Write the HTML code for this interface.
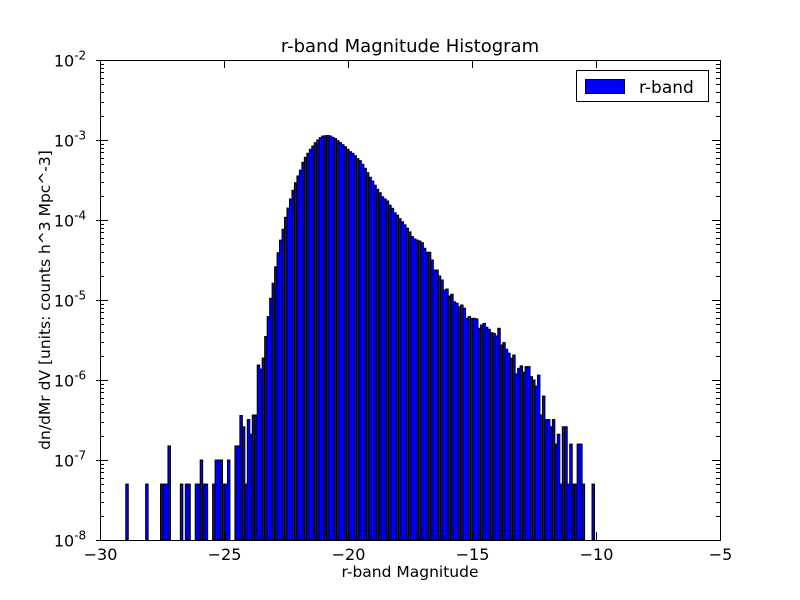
<!DOCTYPE html>
<html><head><meta charset="utf-8"><style>
body{margin:0;background:#fff;}
svg{display:block;font-family:"DejaVu Sans","Liberation Sans",sans-serif;}
</style></head><body>
<svg id="chart" width="800" height="600" xmlns="http://www.w3.org/2000/svg">
<rect width="800" height="600" fill="#fff"/>
<g id="bars"></g>
<g id="axes"></g>
<text x="410" y="52" text-anchor="middle" font-size="18">r-band Magnitude Histogram</text>
<text x="410" y="577" text-anchor="middle" font-size="15.5">r-band Magnitude</text>
<text transform="translate(50,300) rotate(-90)" text-anchor="middle" font-size="15.5">dn/dMr dV [units: counts h^3 Mpc^-3]</text>
<g>
<rect x="576.5" y="70.5" width="132" height="31" fill="#fff" stroke="#000"/>
<rect x="585.5" y="79.5" width="39" height="14" fill="#0000ff" stroke="#000"/>
<text x="639" y="93" font-size="17">r-band</text>
</g>
</svg>
<script>
const binStart = -28.96;
const binWidth = 0.1;
const values = [
5e-8,0,0,0,0,0,0,0,5e-8,0,0,0,0,0,5e-8,5e-8,5e-8,1.5e-7,0,0,
0,0,5e-8,0,5e-8,5e-8,0,0,5e-8,5e-8,1e-7,5e-8,5e-8,0,0,5e-8,1e-7,1e-7,1e-7,5e-8,
5e-8,1e-7,0,0,1.5e-7,1.5e-7,3.6e-7,2.6e-7,5e-8,3.2e-7,2.1e-7,3.65e-7,3.65e-7,1.54e-6,1.37e-6,1.88e-6,3.5e-6,6.2e-6,1.05e-5,1.62e-5,
2.6e-5,3.9e-5,5.6e-5,7.65e-5,1.08e-4,1.41e-4,1.83e-4,2.35e-4,2.92e-4,3.55e-4,4.2e-4,5.26e-4,6.08e-4,6.82e-4,7.65e-4,8.4e-4,9.25e-4,1.0e-3,1.07e-3,1.12e-3,
1.13e-3,1.14e-3,1.12e-3,1.08e-3,1.04e-3,9.8e-4,9.25e-4,8.73e-4,8.24e-4,7.65e-4,7.14e-4,6.82e-4,6.37e-4,5.84e-4,5.51e-4,4.97e-4,4.43e-4,3.9e-4,3.42e-4,3.07e-4,
2.72e-4,2.42e-4,2.19e-4,1.95e-4,1.83e-4,1.73e-4,1.53e-4,1.4e-4,1.23e-4,1.15e-4,1.04e-4,9.5e-5,8.7e-5,7.9e-5,7.1e-5,6.2e-5,5.8e-5,5.6e-5,5.46e-5,5.2e-5,
4.43e-5,3.95e-5,3.95e-5,3.16e-5,2.37e-5,2.37e-5,2.0e-5,1.78e-5,1.33e-5,1.37e-5,1.12e-5,1.18e-5,9.5e-6,9.1e-6,8.25e-6,8.66e-6,7.9e-6,5.9e-6,6.2e-6,5.9e-6,
5.9e-6,5.8e-6,4.43e-6,4.87e-6,5.1e-6,4.56e-6,4.3e-6,3.9e-6,3.83e-6,3.55e-6,4.43e-6,2.74e-6,2.93e-6,2.42e-6,2.16e-6,1.87e-6,2.05e-6,1.19e-6,1.4e-6,1.5e-6,
1.25e-6,1.47e-6,1.47e-6,1.1e-6,1.0e-6,8.4e-7,1.15e-6,3.65e-7,6.3e-7,3.2e-7,3.2e-7,2.6e-7,3.2e-7,1.58e-7,2.1e-7,5e-8,2.6e-7,2.6e-7,5e-8,1.58e-7,
5e-8,5e-8,1.58e-7,1.58e-7,5e-8,0,0,0,5e-8
];
const xTicks = [-30,-25,-20,-15,-10,-5];
const xTickLabels = ["\u221230","\u221225","\u221220","\u221215","\u221210","\u22125"];
const yExps = [-8,-7,-6,-5,-4,-3,-2];

const X0=100,X1=720,Y0=60,Y1=540,xmin=-30,xmax=-5,lmin=-8,lmax=-2;
const xs = m => X0+(m-xmin)/(xmax-xmin)*(X1-X0);
const ys = v => Y1-(Math.log10(v)-lmin)/(lmax-lmin)*(Y1-Y0);
const NS="http://www.w3.org/2000/svg";
function mk(tag,attrs,parent){const e=document.createElementNS(NS,tag);for(const k in attrs)e.setAttribute(k,attrs[k]);parent.appendChild(e);return e;}

const bars=document.getElementById('bars');
values.forEach((v,i)=>{
  if(!v) return;
  const m=binStart+i*binWidth;
  const x=xs(m), w=xs(m+binWidth)-x, y=ys(v);
  const r=mk('rect',{x:x,y:y,width:w,height:Y1-y,fill:'#0000ff',stroke:'#000','stroke-width':1},bars);
  
  
});

const ax=document.getElementById('axes');
const frame=mk('rect',{x:X0+0.5,y:Y0+0.5,width:X1-X0,height:Y1-Y0,fill:'none',stroke:'#000'},ax);


xTicks.forEach((t,i)=>{
  const x=Math.round(xs(t))+0.5;
  mk('line',{x1:x,x2:x,y1:Y1,y2:Y1-8,stroke:'#000'},ax);
  mk('line',{x1:x,x2:x,y1:Y0,y2:Y0+8,stroke:'#000'},ax);
  const tx=mk('text',{x:x,y:Y1+20,'text-anchor':'middle','font-size':16},ax);
  tx.textContent=xTickLabels[i];
  
  
});
yExps.forEach((e,i)=>{
  const y=Math.round(ys(Math.pow(10,e)))+0.5;
  mk('line',{x1:X0-4,x2:X0+8,y1:y,y2:y,stroke:'#000'},ax);
  mk('line',{x1:X1,x2:X1-8,y1:y,y2:y,stroke:'#000'},ax);
  const tx=mk('text',{x:X0-30,y:y+6,'text-anchor':'middle','font-size':16},ax);
  
  
  const a=mk('tspan',{},tx); a.textContent='10';
  const b=mk('tspan',{dy:-7,'font-size':12},tx); b.textContent=String(e);
  if(i<yExps.length-1){
    for(let k=2;k<10;k++){
      const yy=Math.round(ys(k*Math.pow(10,e)))+0.5;
      mk('line',{x1:X0,x2:X0+4,y1:yy,y2:yy,stroke:'#000'},ax);
      mk('line',{x1:X1,x2:X1-4,y1:yy,y2:yy,stroke:'#000'},ax);
    }
  }
});
</script>
</body></html>
